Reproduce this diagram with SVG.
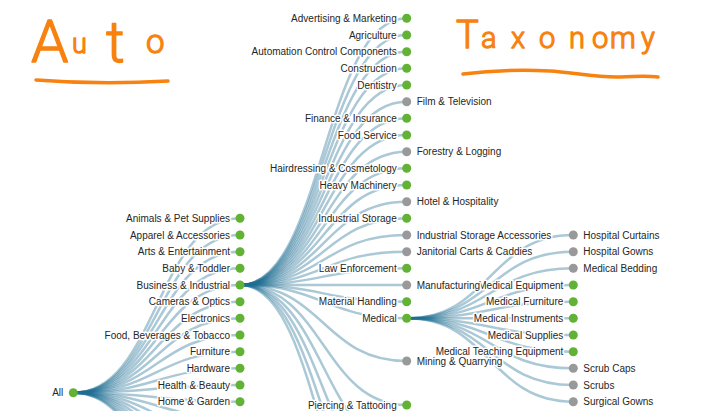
<svg xmlns="http://www.w3.org/2000/svg" width="716" height="411" viewBox="0 0 716 411">
<style>
.link{fill:none;stroke:#1f6e93;stroke-opacity:.38;stroke-width:2.5}
.g{fill:#62b236}
.e{fill:#999}
.lbl{font-family:"Liberation Sans",Arial,sans-serif;font-size:10px;fill:#262626;stroke:#fff;stroke-width:3px;stroke-linejoin:round;paint-order:stroke}
.L{text-anchor:end}
.hand{font-family:Roboto,"Open Sans",sans-serif;font-weight:300;fill:#f7820f;stroke:#f7820f;stroke-width:1.3px;stroke-linejoin:round}
.ul{fill:none;stroke:#f7820f;stroke-width:3.5;stroke-linecap:round}
</style>
<defs>
<circle id="dot" r="4.5"/>
</defs>
<g id="title">
<text class="hand" x="31" y="62" font-size="60">A<tspan x="72" y="53" font-size="27">u</tspan><tspan x="106" y="62" font-size="58">t</tspan><tspan x="146" y="53" font-size="33">o</tspan></text>
<path class="ul" d="M36,80 Q100,85 168,81"/>
<text class="hand" x="456" y="48" font-size="38">T<tspan x="481 511 539 569 592 610 641" font-size="29">axonomy</tspan></text>
<path class="ul" d="M463,74 C495,70 530,70 550,71 S600,78 620,77 S650,76 658,77"/>
</g>
<g id="links">
<path class="link" d="M73.3,392.7C156.7,392.7 156.7,218.3 240,218.3"/>
<path class="link" d="M73.3,392.7C156.7,392.7 156.7,235 240,235"/>
<path class="link" d="M73.3,392.7C156.7,392.7 156.7,251.7 240,251.7"/>
<path class="link" d="M73.3,392.7C156.7,392.7 156.7,268.3 240,268.3"/>
<path class="link" d="M73.3,392.7C156.7,392.7 156.7,285 240,285"/>
<path class="link" d="M73.3,392.7C156.7,392.7 156.7,301.7 240,301.7"/>
<path class="link" d="M73.3,392.7C156.7,392.7 156.7,318.3 240,318.3"/>
<path class="link" d="M73.3,392.7C156.7,392.7 156.7,335 240,335"/>
<path class="link" d="M73.3,392.7C156.7,392.7 156.7,351.7 240,351.7"/>
<path class="link" d="M73.3,392.7C156.7,392.7 156.7,368.3 240,368.3"/>
<path class="link" d="M73.3,392.7C156.7,392.7 156.7,385 240,385"/>
<path class="link" d="M73.3,392.7C156.7,392.7 156.7,401.7 240,401.7"/>
<path class="link" d="M73.3,392.7C156.7,392.7 156.7,418.3 240,418.3"/>
<path class="link" d="M73.3,392.7C156.7,392.7 156.7,436 240,436"/>
<path class="link" d="M73.3,392.7C156.7,392.7 156.7,454 240,454"/>
<path class="link" d="M73.3,392.7C156.7,392.7 156.7,472 240,472"/>
<path class="link" d="M73.3,392.7C156.7,392.7 156.7,490 240,490"/>
<path class="link" d="M73.3,392.7C156.7,392.7 156.7,510 240,510"/>
<path class="link" d="M73.3,392.7C156.7,392.7 156.7,530 240,530"/>
<path class="link" d="M73.3,392.7C156.7,392.7 156.7,550 240,550"/>
<path class="link" d="M73.3,392.7C156.7,392.7 156.7,567 240,567"/>
<path class="link" d="M240,285C323.4,285 323.4,18.3 406.7,18.3"/>
<path class="link" d="M240,285C323.4,285 323.4,35 406.7,35"/>
<path class="link" d="M240,285C323.4,285 323.4,51.7 406.7,51.7"/>
<path class="link" d="M240,285C323.4,285 323.4,68.3 406.7,68.3"/>
<path class="link" d="M240,285C323.4,285 323.4,85 406.7,85"/>
<path class="link" d="M240,285C323.4,285 323.4,101.7 406.7,101.7"/>
<path class="link" d="M240,285C323.4,285 323.4,118.3 406.7,118.3"/>
<path class="link" d="M240,285C323.4,285 323.4,135 406.7,135"/>
<path class="link" d="M240,285C323.4,285 323.4,151.7 406.7,151.7"/>
<path class="link" d="M240,285C323.4,285 323.4,168.3 406.7,168.3"/>
<path class="link" d="M240,285C323.4,285 323.4,185 406.7,185"/>
<path class="link" d="M240,285C323.4,285 323.4,201.7 406.7,201.7"/>
<path class="link" d="M240,285C323.4,285 323.4,218.3 406.7,218.3"/>
<path class="link" d="M240,285C323.4,285 323.4,235 406.7,235"/>
<path class="link" d="M240,285C323.4,285 323.4,251.7 406.7,251.7"/>
<path class="link" d="M240,285C323.4,285 323.4,268.3 406.7,268.3"/>
<path class="link" d="M240,285C323.4,285 323.4,285 406.7,285"/>
<path class="link" d="M240,285C323.4,285 323.4,301.7 406.7,301.7"/>
<path class="link" d="M240,285C323.4,285 323.4,318.3 406.7,318.3"/>
<path class="link" d="M240,285C323.4,285 323.4,361 406.7,361"/>
<path class="link" d="M240,285C323.4,285 323.4,405 406.7,405"/>
<path class="link" d="M240,285C323.4,285 323.4,449 406.7,449"/>
<path class="link" d="M240,285C323.4,285 323.4,493 406.7,493"/>
<path class="link" d="M240,285C323.4,285 323.4,537 406.7,537"/>
<path class="link" d="M240,285C323.4,285 323.4,581 406.7,581"/>
<path class="link" d="M406.7,318.3C490,318.3 490,235 573.3,235"/>
<path class="link" d="M406.7,318.3C490,318.3 490,251.7 573.3,251.7"/>
<path class="link" d="M406.7,318.3C490,318.3 490,268.3 573.3,268.3"/>
<path class="link" d="M406.7,318.3C490,318.3 490,285 573.3,285"/>
<path class="link" d="M406.7,318.3C490,318.3 490,301.7 573.3,301.7"/>
<path class="link" d="M406.7,318.3C490,318.3 490,318.3 573.3,318.3"/>
<path class="link" d="M406.7,318.3C490,318.3 490,335 573.3,335"/>
<path class="link" d="M406.7,318.3C490,318.3 490,351.7 573.3,351.7"/>
<path class="link" d="M406.7,318.3C490,318.3 490,368.3 573.3,368.3"/>
<path class="link" d="M406.7,318.3C490,318.3 490,385 573.3,385"/>
<path class="link" d="M406.7,318.3C490,318.3 490,401.7 573.3,401.7"/>
</g>
<g id="n-hospital-curtains" transform="translate(573.3,235)"><use href="#dot" class="e"/><text class="lbl" x="10" dy="0.35em">Hospital Curtains</text></g>
<g id="n-hospital-gowns" transform="translate(573.3,251.7)"><use href="#dot" class="e"/><text class="lbl" x="10" dy="0.35em">Hospital Gowns</text></g>
<g id="n-medical-bedding" transform="translate(573.3,268.3)"><use href="#dot" class="e"/><text class="lbl" x="10" dy="0.35em">Medical Bedding</text></g>
<g id="n-medical-equipment" transform="translate(573.3,285)"><use href="#dot" class="g"/><text class="lbl L" x="-10" dy="0.35em">Medical Equipment</text></g>
<g id="n-medical-furniture" transform="translate(573.3,301.7)"><use href="#dot" class="g"/><text class="lbl L" x="-10" dy="0.35em">Medical Furniture</text></g>
<g id="n-medical-instruments" transform="translate(573.3,318.3)"><use href="#dot" class="g"/><text class="lbl L" x="-10" dy="0.35em">Medical Instruments</text></g>
<g id="n-medical-supplies" transform="translate(573.3,335)"><use href="#dot" class="g"/><text class="lbl L" x="-10" dy="0.35em">Medical Supplies</text></g>
<g id="n-medical-teaching" transform="translate(573.3,351.7)"><use href="#dot" class="g"/><text class="lbl L" x="-10" dy="0.35em">Medical Teaching Equipment</text></g>
<g id="n-scrub-caps" transform="translate(573.3,368.3)"><use href="#dot" class="e"/><text class="lbl" x="10" dy="0.35em">Scrub Caps</text></g>
<g id="n-scrubs" transform="translate(573.3,385)"><use href="#dot" class="e"/><text class="lbl" x="10" dy="0.35em">Scrubs</text></g>
<g id="n-surgical-gowns" transform="translate(573.3,401.7)"><use href="#dot" class="e"/><text class="lbl" x="10" dy="0.35em">Surgical Gowns</text></g>
<g id="n-all" transform="translate(73.3,392.7)"><use href="#dot" class="g"/><text class="lbl L" x="-10" dy="0.35em">All</text></g>
<g id="n-animals" transform="translate(240,218.3)"><use href="#dot" class="g"/><text class="lbl L" x="-10" dy="0.35em">Animals &amp; Pet Supplies</text></g>
<g id="n-apparel" transform="translate(240,235)"><use href="#dot" class="g"/><text class="lbl L" x="-10" dy="0.35em">Apparel &amp; Accessories</text></g>
<g id="n-arts" transform="translate(240,251.7)"><use href="#dot" class="g"/><text class="lbl L" x="-10" dy="0.35em">Arts &amp; Entertainment</text></g>
<g id="n-baby" transform="translate(240,268.3)"><use href="#dot" class="g"/><text class="lbl L" x="-10" dy="0.35em">Baby &amp; Toddler</text></g>
<g id="n-business" transform="translate(240,285)"><use href="#dot" class="g"/><text class="lbl L" x="-10" dy="0.35em">Business &amp; Industrial</text></g>
<g id="n-cameras" transform="translate(240,301.7)"><use href="#dot" class="g"/><text class="lbl L" x="-10" dy="0.35em">Cameras &amp; Optics</text></g>
<g id="n-electronics" transform="translate(240,318.3)"><use href="#dot" class="g"/><text class="lbl L" x="-10" dy="0.35em">Electronics</text></g>
<g id="n-food" transform="translate(240,335)"><use href="#dot" class="g"/><text class="lbl L" x="-10" dy="0.35em">Food, Beverages &amp; Tobacco</text></g>
<g id="n-furniture" transform="translate(240,351.7)"><use href="#dot" class="g"/><text class="lbl L" x="-10" dy="0.35em">Furniture</text></g>
<g id="n-hardware" transform="translate(240,368.3)"><use href="#dot" class="g"/><text class="lbl L" x="-10" dy="0.35em">Hardware</text></g>
<g id="n-health" transform="translate(240,385)"><use href="#dot" class="g"/><text class="lbl L" x="-10" dy="0.35em">Health &amp; Beauty</text></g>
<g id="n-home" transform="translate(240,401.7)"><use href="#dot" class="g"/><text class="lbl L" x="-10" dy="0.35em">Home &amp; Garden</text></g>
<g id="n-advertising" transform="translate(406.7,18.3)"><use href="#dot" class="g"/><text class="lbl L" x="-10" dy="0.35em">Advertising &amp; Marketing</text></g>
<g id="n-agriculture" transform="translate(406.7,35)"><use href="#dot" class="g"/><text class="lbl L" x="-10" dy="0.35em">Agriculture</text></g>
<g id="n-automation" transform="translate(406.7,51.7)"><use href="#dot" class="g"/><text class="lbl L" x="-10" dy="0.35em">Automation Control Components</text></g>
<g id="n-construction" transform="translate(406.7,68.3)"><use href="#dot" class="g"/><text class="lbl L" x="-10" dy="0.35em">Construction</text></g>
<g id="n-dentistry" transform="translate(406.7,85)"><use href="#dot" class="g"/><text class="lbl L" x="-10" dy="0.35em">Dentistry</text></g>
<g id="n-film" transform="translate(406.7,101.7)"><use href="#dot" class="e"/><text class="lbl" x="10" dy="0.35em">Film &amp; Television</text></g>
<g id="n-finance" transform="translate(406.7,118.3)"><use href="#dot" class="g"/><text class="lbl L" x="-10" dy="0.35em">Finance &amp; Insurance</text></g>
<g id="n-food-service" transform="translate(406.7,135)"><use href="#dot" class="g"/><text class="lbl L" x="-10" dy="0.35em">Food Service</text></g>
<g id="n-forestry" transform="translate(406.7,151.7)"><use href="#dot" class="e"/><text class="lbl" x="10" dy="0.35em">Forestry &amp; Logging</text></g>
<g id="n-hairdressing" transform="translate(406.7,168.3)"><use href="#dot" class="g"/><text class="lbl L" x="-10" dy="0.35em">Hairdressing &amp; Cosmetology</text></g>
<g id="n-heavy" transform="translate(406.7,185)"><use href="#dot" class="g"/><text class="lbl L" x="-10" dy="0.35em">Heavy Machinery</text></g>
<g id="n-hotel" transform="translate(406.7,201.7)"><use href="#dot" class="e"/><text class="lbl" x="10" dy="0.35em">Hotel &amp; Hospitality</text></g>
<g id="n-ind-storage" transform="translate(406.7,218.3)"><use href="#dot" class="g"/><text class="lbl L" x="-10" dy="0.35em">Industrial Storage</text></g>
<g id="n-ind-storage-acc" transform="translate(406.7,235)"><use href="#dot" class="e"/><text class="lbl" x="10" dy="0.35em">Industrial Storage Accessories</text></g>
<g id="n-janitorial" transform="translate(406.7,251.7)"><use href="#dot" class="e"/><text class="lbl" x="10" dy="0.35em">Janitorial Carts &amp; Caddies</text></g>
<g id="n-law" transform="translate(406.7,268.3)"><use href="#dot" class="g"/><text class="lbl L" x="-10" dy="0.35em">Law Enforcement</text></g>
<g id="n-manufacturing" transform="translate(406.7,285)"><use href="#dot" class="e"/><text class="lbl" x="10" dy="0.35em">Manufacturing</text></g>
<g id="n-material" transform="translate(406.7,301.7)"><use href="#dot" class="g"/><text class="lbl L" x="-10" dy="0.35em">Material Handling</text></g>
<g id="n-medical" transform="translate(406.7,318.3)"><use href="#dot" class="g"/><text class="lbl L" x="-10" dy="0.35em">Medical</text></g>
<g id="n-mining" transform="translate(406.7,361)"><use href="#dot" class="e"/><text class="lbl" x="10" dy="0.35em">Mining &amp; Quarrying</text></g>
<g id="n-piercing" transform="translate(406.7,405)"><use href="#dot" class="g"/><text class="lbl L" x="-10" dy="0.35em">Piercing &amp; Tattooing</text></g>
</svg>
